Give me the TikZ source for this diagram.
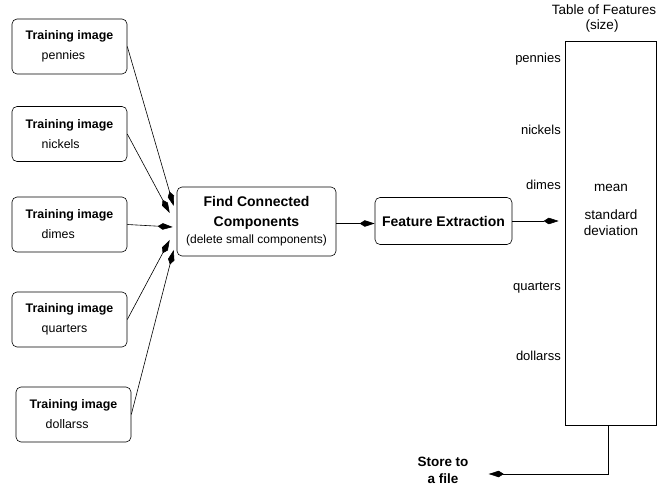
\documentclass[tikz,border=0pt]{standalone}
\usepackage{fontspec}
\setmainfont{Liberation Sans}
\usetikzlibrary{arrows.meta,calc}
\begin{document}
\begin{tikzpicture}[x=1pt,y=-1pt,
  box/.style={draw, line width=0.6pt, rounded corners=5pt, inner sep=0pt},
  trainbox/.style={box, minimum width=115pt, minimum height=55pt, align=left,
    font=\fontsize{12.4}{20}\selectfont\bfseries},
  lbl/.style={font=\fontsize{13}{16}\selectfont, inner sep=0pt},
  conn/.style={line width=0.6pt, -{Kite[length=15pt,width=6.5pt,inset=5pt]}}
]
\useasboundingbox (0,0) rectangle (659,486);

% training boxes
\node[trainbox] (pen) at (69.5,46.5) {Training image\\\hspace*{16pt}\normalfont pennies};
\node[trainbox] (nic) at (69.5,134) {Training image\\\hspace*{16pt}\normalfont nickels};
\node[trainbox] (dim) at (69.5,224.5) {Training image\\\hspace*{16pt}\normalfont dimes};
\node[trainbox] (qua) at (69.5,319.5) {Training image\\\hspace*{16pt}\normalfont quarters};
\node[trainbox] (dol) at (73.5,414.5) {Training image\\\hspace*{16pt}\normalfont dollarss};

% central boxes
\node[box, minimum width=159pt, minimum height=69pt, align=center,
  font=\fontsize{14}{20}\selectfont\bfseries] (find) at (256.5,221.5)
  {Find Connected\\Components\\[-3pt]{\normalfont\fontsize{12}{14}\selectfont (delete small components)}};
\node[box, minimum width=137pt, minimum height=47pt,
  font=\fontsize{14}{17}\selectfont\bfseries] (fe) at (443.5,221) {Feature Extraction};

% table
\node[draw, line width=0.6pt, minimum width=91pt, minimum height=384pt, inner sep=0pt] (table) at (610.5,233) {};
\node[lbl, font=\fontsize{13.5}{16}\selectfont] (ttl) at (604,10) {Table of Features};
\node[lbl, font=\fontsize{13.5}{16}\selectfont] (sz) at (602,26) {(size)};
\node[lbl, anchor=east] (lpen) at (561,59) {pennies};
\node[lbl, anchor=east] (lnic) at (561,130) {nickels};
\node[lbl, anchor=east] (ldim) at (561,185) {dimes};
\node[lbl, anchor=east] (lqua) at (561,288) {quarters};
\node[lbl, anchor=east] (ldol) at (561,356) {dollarss};
\node[lbl, font=\fontsize{13.5}{16}\selectfont] (mean) at (611,188) {mean};
\node[lbl, font=\fontsize{13.5}{16}\selectfont, align=center] (sd) at (611,223) {standard\\deviation};

% store
\node[align=center, inner sep=0pt, font=\fontsize{13.5}{17}\selectfont\bfseries] (store) at (443,470) {Store to\\a file};

% connectors
\draw[conn] (pen.east) -- ([xshift=-3pt,yshift=15.5pt]find.west);
\draw[conn] (nic.east) -- ([xshift=-7pt,yshift=8.5pt]find.west);
\draw[conn] (dim.east) -- ([xshift=-4pt,yshift=-5.5pt]find.west);
\draw[conn] (qua.east) -- ([xshift=-7pt,yshift=-18.5pt]find.west);
\draw[conn] (dol.east) -- ([xshift=-3pt,yshift=-28.5pt]find.west);
\draw[conn] ([yshift=-2pt]find.east) -- ([yshift=-2pt]find.east -| fe.west);
\draw[conn] (fe.east) -- ([xshift=-6pt]fe.east -| table.west);
\draw[line width=0.6pt, -{Kite[length=15pt,width=6.5pt,inset=5pt]}] ([xshift=-2pt]table.south) |- ([xshift=20pt,yshift=-4pt]store.east);
\end{tikzpicture}
\end{document}
